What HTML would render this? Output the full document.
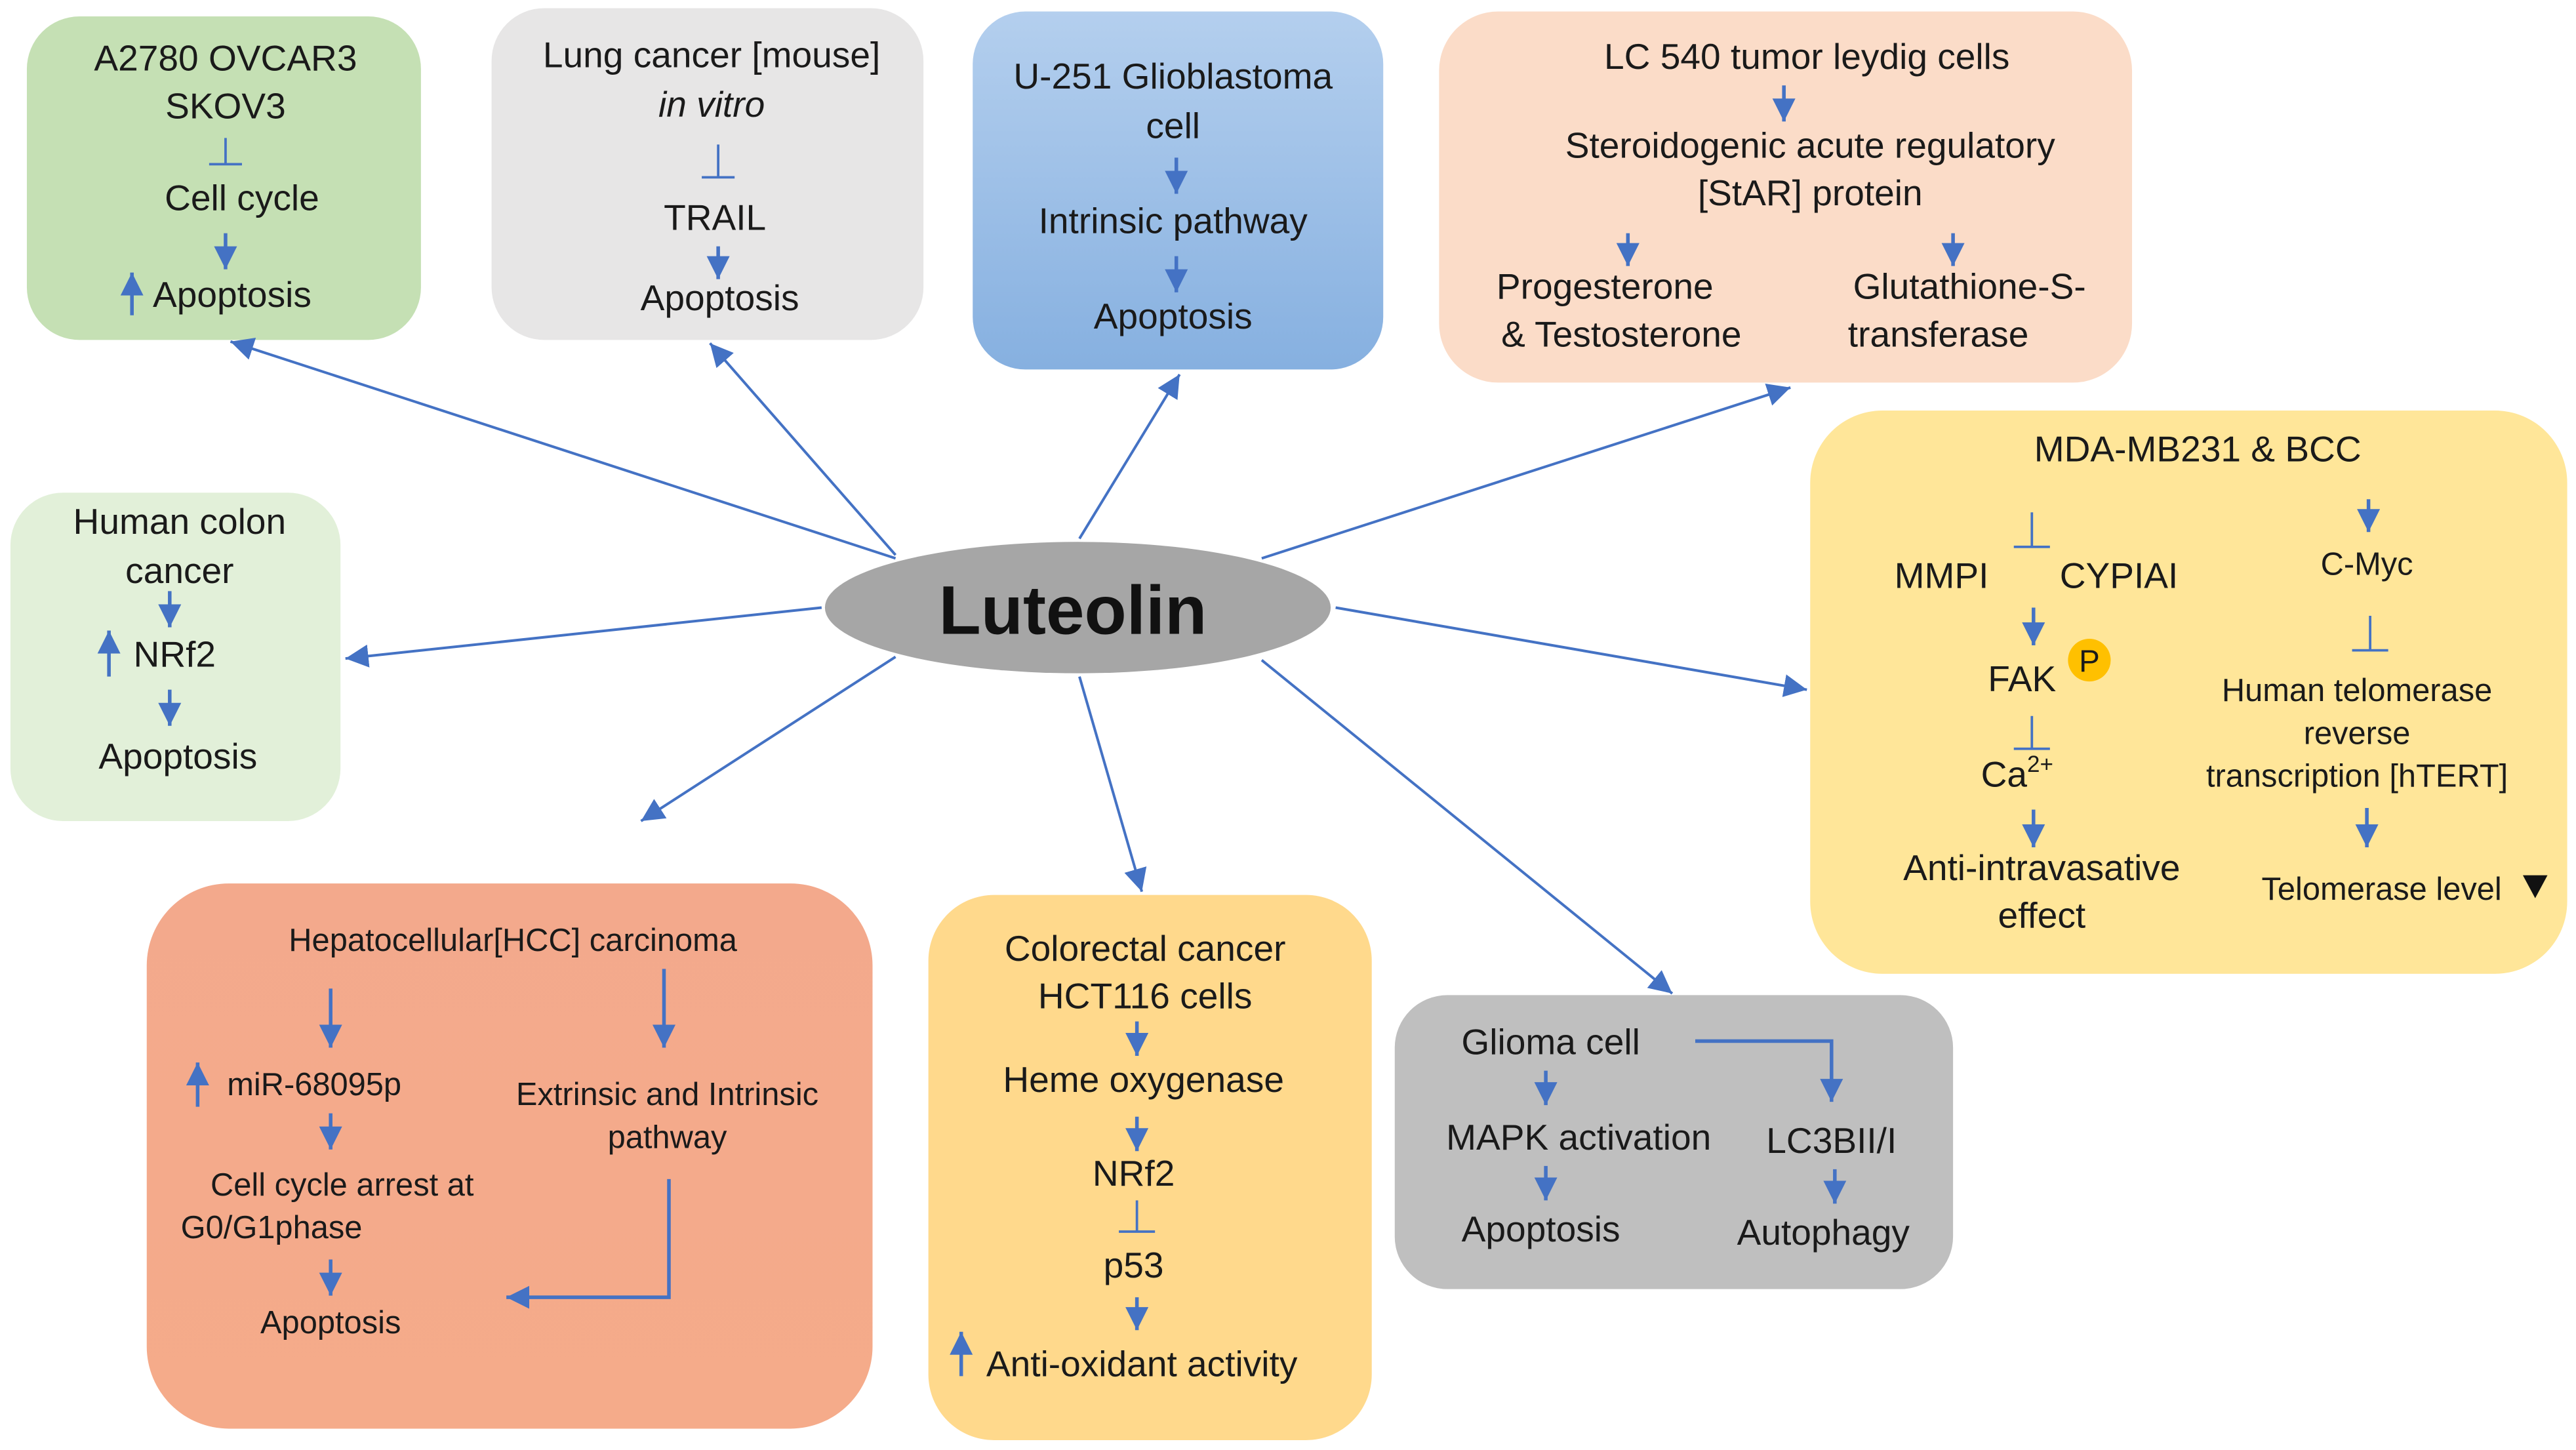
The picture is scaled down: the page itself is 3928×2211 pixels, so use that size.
<!DOCTYPE html>
<html><head><meta charset="utf-8">
<style>
html,body{margin:0;padding:0;background:#fff;}
svg{display:block;}
text{font-family:"Liberation Sans",Arial,sans-serif;fill:#1a1a1a;text-anchor:middle;}
</style></head>
<body>
<svg width="3928" height="2211" viewBox="0 0 1568 883" xmlns="http://www.w3.org/2000/svg">
<defs>
<marker id="ah" markerUnits="userSpaceOnUse" markerWidth="16" markerHeight="16" refX="14" refY="7" orient="auto">
<path d="M0,0 L14,7 L0,14 z" fill="#4472c4"/>
</marker>
<linearGradient id="gb" x1="0" y1="0" x2="0" y2="1"><stop offset="0" stop-color="#b4cfee"/><stop offset="1" stop-color="#86b0e0"/></linearGradient>
<linearGradient id="go" x1="0" y1="0" x2="0" y2="1"><stop offset="0" stop-color="#f3a98c"/><stop offset="1" stop-color="#f5ab8a"/></linearGradient>
</defs>

<rect x="16" y="10" width="240" height="197" rx="32" fill="#c5e0b4"/>
<rect x="299" y="5" width="263" height="202" rx="32" fill="#e7e6e6"/>
<rect x="592" y="7" width="250" height="218" rx="32" fill="url(#gb)"/>
<rect x="876" y="7" width="422" height="226" rx="36" fill="#fbdcc8"/>
<rect x="1102" y="250" width="461" height="343" rx="44" fill="#ffe699"/>
<rect x="6" y="300" width="201" height="200" rx="32" fill="#e2f0d9"/>
<rect x="89" y="538" width="442" height="332" rx="50" fill="url(#go)"/>
<rect x="565" y="545" width="270" height="332" rx="40" fill="#ffd98c"/>
<rect x="849" y="606" width="340" height="179" rx="32" fill="#bfbfbf"/>

<ellipse cx="656" cy="370" rx="154" ry="40" fill="#a6a6a6"/>
<text x="653" y="386" style="font-size:42px;font-weight:bold;fill:#111">Luteolin</text>

<g stroke="#4472c4" stroke-width="1.6" fill="none" marker-end="url(#ah)">
<line x1="545" y1="340" x2="140" y2="208"/>
<line x1="545" y1="338" x2="432" y2="209"/>
<line x1="657" y1="328" x2="718" y2="228"/>
<line x1="768" y1="340" x2="1090" y2="236"/>
<line x1="813" y1="370" x2="1100" y2="420"/>
<line x1="500" y1="370" x2="210" y2="401"/>
<line x1="545" y1="400" x2="390" y2="500"/>
<line x1="657" y1="412" x2="695" y2="543"/>
<line x1="768" y1="402" x2="1018" y2="605"/>
</g>

<g stroke="#4472c4" stroke-width="2.2" fill="none" marker-end="url(#ah)">
<line x1="137" y1="142" x2="137" y2="164"/>
<line x1="80" y1="192" x2="80" y2="166"/>
<line x1="437" y1="150" x2="437" y2="170"/>
<line x1="716" y1="96" x2="716" y2="118"/>
<line x1="716" y1="156" x2="716" y2="178"/>
<line x1="1086" y1="52" x2="1086" y2="74"/>
<line x1="991" y1="142" x2="991" y2="162"/>
<line x1="1189" y1="142" x2="1189" y2="162"/>
<line x1="1442" y1="304" x2="1442" y2="324"/>
<line x1="1238" y1="370" x2="1238" y2="393"/>
<line x1="1238" y1="493" x2="1238" y2="516"/>
<line x1="1441" y1="492" x2="1441" y2="516"/>
<line x1="103" y1="360" x2="103" y2="382"/>
<line x1="66" y1="412" x2="66" y2="384"/>
<line x1="103" y1="420" x2="103" y2="442"/>
<line x1="201" y1="602" x2="201" y2="638"/>
<line x1="404" y1="590" x2="404" y2="638"/>
<line x1="120" y1="674" x2="120" y2="647"/>
<line x1="201" y1="678" x2="201" y2="700"/>
<line x1="201" y1="767" x2="201" y2="789"/>
<polyline points="407,718 407,790 308,790"/>
<line x1="692" y1="622" x2="692" y2="643"/>
<line x1="692" y1="680" x2="692" y2="701"/>
<line x1="692" y1="790" x2="692" y2="810"/>
<line x1="585" y1="838" x2="585" y2="811"/>
<polyline points="1032,634 1115,634 1115,671"/>
<line x1="941" y1="652" x2="941" y2="673"/>
<line x1="941" y1="710" x2="941" y2="731"/>
<line x1="1117" y1="712" x2="1117" y2="733"/>
</g>

<g stroke="#4472c4" stroke-width="1.5" fill="none">
<path d="M137,84 V100 M127,100 H147"/>
<path d="M437,88 V108 M427,108 H447"/>
<path d="M1237,312 V333 M1226,333 H1248"/>
<path d="M1443,375 V396 M1432,396 H1454"/>
<path d="M1237,436 V456 M1226,456 H1248"/>
<path d="M692,731 V750 M681,750 H703"/>
</g>

<g style="font-size:22px">
<text x="137" y="43">A2780 OVCAR3</text>
<text x="137" y="72">SKOV3</text>
<text x="147" y="128">Cell cycle</text>
<text x="141" y="187">Apoptosis</text>
<text x="433" y="41">Lung  cancer [mouse]</text>
<text x="433" y="71" style="font-style:italic">in vitro</text>
<text x="435" y="140">TRAIL</text>
<text x="438" y="189">Apoptosis</text>
<text x="714" y="54">U-251 Glioblastoma</text>
<text x="714" y="84">cell</text>
<text x="714" y="142">Intrinsic pathway</text>
<text x="714" y="200">Apoptosis</text>
<text x="1100" y="42">LC 540 tumor leydig cells</text>
<text x="1102" y="96">Steroidogenic acute regulatory</text>
<text x="1102" y="125">[StAR] protein</text>
<text x="977" y="182">Progesterone</text>
<text x="987" y="211">&amp; Testosterone</text>
<text x="1199" y="182">Glutathione-S-</text>
<text x="1180" y="211">transferase</text>
<text x="1338" y="281">MDA-MB231 &amp; BCC</text>
<text x="1182" y="358">MMPI</text>
<text x="1290" y="358">CYPIAI</text>
<text x="1231" y="421">FAK</text>
<text x="1228" y="479">Ca<tspan dy="-9" style="font-size:14px">2+</tspan></text>
<text x="1243" y="536">Anti-intravasative</text>
<text x="1243" y="565">effect</text>
<text x="109" y="325">Human colon</text>
<text x="109" y="355">cancer</text>
<text x="106" y="406">NRf2</text>
<text x="108" y="468">Apoptosis</text>
<text x="697" y="585">Colorectal cancer</text>
<text x="697" y="614">HCT116 cells</text>
<text x="696" y="665">Heme oxygenase</text>
<text x="690" y="722">NRf2</text>
<text x="690" y="778">p53</text>
<text x="695" y="838">Anti-oxidant activity</text>
<text x="944" y="642">Glioma cell</text>
<text x="961" y="700">MAPK activation</text>
<text x="1115" y="702">LC3BII/I</text>
<text x="938" y="756">Apoptosis</text>
<text x="1110" y="758">Autophagy</text>
</g>
<g style="font-size:19.5px">
<text x="1441" y="350">C-Myc</text>
<text x="1435" y="427">Human telomerase</text>
<text x="1435" y="453">reverse</text>
<text x="1435" y="479">transcription [hTERT]</text>
<text x="1450" y="548">Telomerase  level</text>
<text x="312" y="579">Hepatocellular[HCC]  carcinoma</text>
<text x="191" y="667">miR-68095p</text>
<text x="406" y="673">Extrinsic and Intrinsic</text>
<text x="406" y="699">pathway</text>
<text x="208" y="728">Cell cycle arrest at</text>
<text x="165" y="754">G0/G1phase</text>
<text x="201" y="812">Apoptosis</text>
</g>
<path d="M1536,533 L1551,533 L1543.5,547 z" fill="#111"/>
<circle cx="1272" cy="402" r="13" fill="#ffc000"/>
<text x="1272" y="409" style="font-size:19px">P</text>
</svg>
</body></html>
